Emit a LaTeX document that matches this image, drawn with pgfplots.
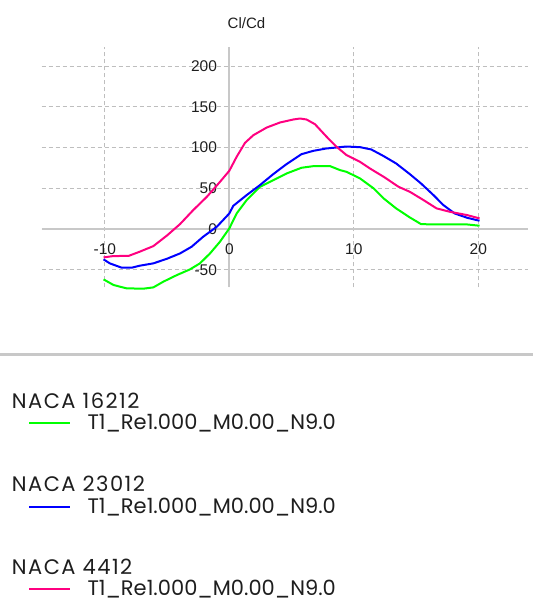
\documentclass[border=0pt]{standalone}
\usepackage{fontspec}
\usepackage{pgfplots}
\pgfplotsset{compat=1.18}
\setmainfont{Liberation Sans}
\newfontfamily\legfont{Poppins}
\newfontfamily\legheadfont[LetterSpace=7]{Poppins}
\definecolor{axgray}{RGB}{200,200,200}
\definecolor{grdgray}{RGB}{190,190,190}
\definecolor{cgreen}{RGB}{0,255,0}
\definecolor{cblue}{RGB}{0,0,255}
\definecolor{cpink}{RGB}{255,0,128}
\definecolor{txt}{RGB}{30,30,30}
\begin{document}
\begin{tikzpicture}[x=1pt,y=1pt]
\useasboundingbox (0,0) rectangle (533,603);
\begin{axis}[
  at={(41.7pt,315.7pt)}, anchor=south west,
  scale only axis, width=486.4pt, height=240.6pt,
  xmin=-15.07, xmax=24, ymin=-71.5, ymax=224,
  axis lines=middle,
  axis line style={-, draw=axgray, line width=2pt},
  xtick={-10,0,10,20}, ytick={-50,0,50,100,150,200},
  hide obscured x ticks=false, hide obscured y ticks=false,
  tick style={draw=none},
  grid=major,
  major grid style={draw=grdgray, line width=1pt, dash pattern=on 4pt off 3pt},
  /pgf/number format/assume math mode=true,
  ticklabel style={font=\fontsize{15.5}{18}\selectfont, text=txt, inner sep=0pt},
  xticklabel style={anchor=north, yshift=-12pt},
  yticklabel style={anchor=east, xshift=-10pt},
  clip=false,
]
\addplot[cgreen, line width=2pt] coordinates {
(-10.1,-61.8) (-9.3,-68.7) (-8.25,-72.8) (-6.9,-73.2) (-6.1,-71.6) (-5.3,-64.6)
(-4.2,-56.4) (-3.16,-49.5) (-2.36,-42.1) (-1.55,-29.9) (-0.75,-15.5) (0,0.8)
(0.59,19.2) (1.39,35.6) (2.46,51.9) (3.53,60.1) (4.6,68.3) (5.8,75.3)
(6.75,77.3) (8.1,77.3) (8.9,72.4) (9.42,70.3) (10.5,62.2) (11.6,49.9)
(12.4,37.6) (13.4,25.4) (14.5,14.3) (15.4,6.1) (16.4,5.7) (19.1,5.7) (20.1,4.1)};
\addplot[cblue, line width=2pt] coordinates {
(-10.1,-37.2) (-9.6,-42.1) (-8.65,-47.4) (-7.84,-47.4) (-7.2,-45) (-6.1,-42.1)
(-5.0,-36.4) (-3.96,-29.9) (-3.03,-21.7) (-2.1,-9.4) (-1.0,2.9) (0,19.2)
(0.32,28.6) (1.39,41.7) (2.46,54) (3.53,67.5) (4.6,79.8) (5.8,92)
(6.75,96.1) (7.8,99) (8.6,100.2) (9.4,101.4) (10.5,100.6) (11.4,97.8)
(12.4,89.6) (13.4,80.6) (14.5,67.5) (15.4,56) (16.4,41.7) (17.2,29.4)
(18.1,19.2) (19.1,13.9) (20.1,10.2)};
\addplot[cpink, line width=2pt] coordinates {
(-10.1,-34.8) (-9.3,-33.1) (-8.1,-33) (-7.2,-27.8) (-6.1,-20.9) (-5.0,-7.8)
(-3.96,6.1) (-2.9,23.3) (-1.8,39.7) (-0.75,58) (0,71.6) (0.59,88.8)
(1.26,105.9) (1.93,115.3) (3.0,124.7) (4.07,130.9) (5.14,134.6) (5.68,135.8)
(6.2,134.6) (6.88,128.8) (7.82,113.3) (8.62,101) (9.42,90.8) (10.5,82.6)
(11.3,74.4) (12.4,64.2) (13.6,51.9) (14.5,45.8) (15.6,35.6) (16.65,25.4)
(17.7,21.3) (19.1,17.2) (20.1,13.1)};
\end{axis}
\node[font=\fontsize{15}{18}\selectfont, text=txt] at (246.5,579.5) {Cl/Cd};
\draw[axgray, line width=2.5pt] (0,248.7) -- (533,248.7);
\begin{scope}[every node/.style={anchor=base west, inner sep=0pt, text=txt, font=\legfont\fontsize{21}{25}\selectfont}]
\node[font=\legheadfont\fontsize{21}{25}\selectfont] at (11.7,194.7) {NACA 16212};
\draw[cgreen, line width=2pt] (29,179.7) -- (70,179.7);
\node at (87.3,173) {T1\_Re1.000\_M0.00\_N9.0};
\node[font=\legheadfont\fontsize{21}{25}\selectfont] at (11.7,111.3) {NACA 23012};
\draw[cblue, line width=2pt] (29,96.3) -- (70,96.3);
\node at (87.3,89.7) {T1\_Re1.000\_M0.00\_N9.0};
\node[font=\legheadfont\fontsize{21}{25}\selectfont] at (11.7,28.7) {NACA 4412};
\draw[cpink, line width=2pt] (29,13.7) -- (70,13.7);
\node at (87.3,7) {T1\_Re1.000\_M0.00\_N9.0};
\end{scope}
\end{tikzpicture}
\end{document}
